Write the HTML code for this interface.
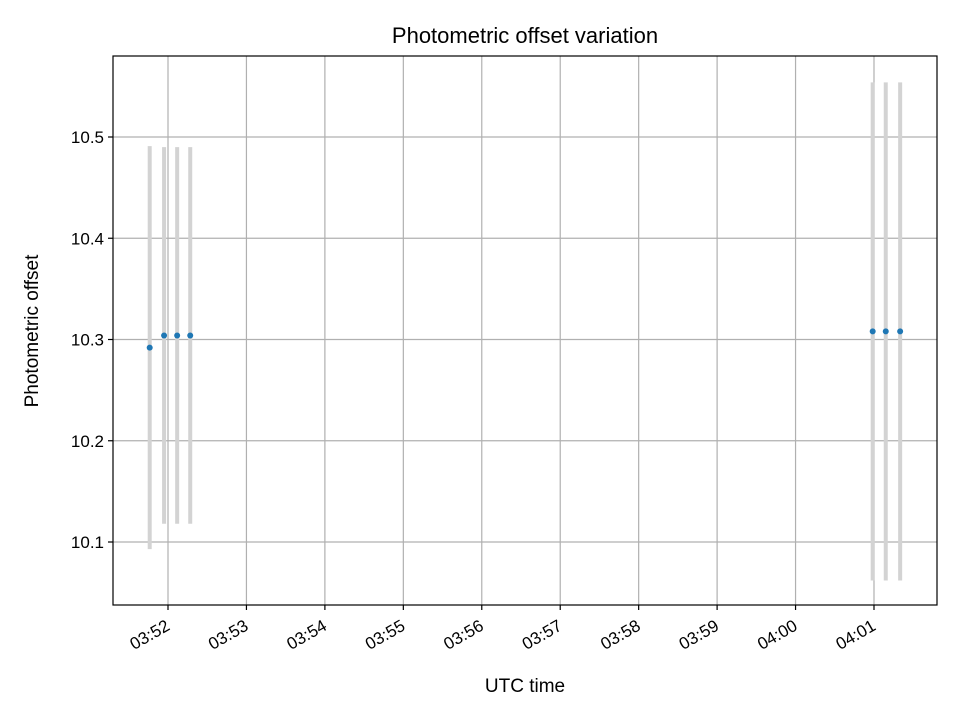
<!DOCTYPE html>
<html><head><meta charset="utf-8"><style>
body{margin:0;background:#fff}
svg text{font-family:"Liberation Sans","DejaVu Sans",sans-serif;fill:#000}
</style></head><body>
<svg id="chart" width="960" height="720" xmlns="http://www.w3.org/2000/svg">
<rect width="960" height="720" fill="#fff"/>
<g id="grid"></g>
<g id="errs"></g>
<g id="pts"></g>
<rect x="113" y="56" width="824" height="549" fill="none" stroke="#000" stroke-width="1.2"/>
<g id="ticks"></g>
<text x="525" y="43" font-size="22" text-anchor="middle">Photometric offset variation</text>
<text x="525" y="692" font-size="19" text-anchor="middle">UTC time</text>
<text transform="translate(38,331) rotate(-90)" font-size="19" text-anchor="middle">Photometric offset</text>
</svg>
<script>
// times in seconds since 03:50:00
const times=[106,117,127,137,659,669,680];
const values=[10.292,10.304,10.304,10.304,10.308,10.308,10.308];
const errors=[0.199,0.186,0.186,0.186,0.246,0.246,0.246];
const yTicks=[10.1,10.2,10.3,10.4,10.5];
// tick minutes since 03:50:00
const xTickMinutes=[2,3,4,5,6,7,8,9,10,11];
const xTickLabels=["03:52","03:53","03:54","03:55","03:56","03:57","03:58","03:59","04:00","04:01"];
const NS="http://www.w3.org/2000/svg";
const L=113,R=937,T=56,B=605;
function xs(sec){return 168+(sec/60-2)*78.444;}
function ys(v){return 542-(v-10.1)*1012.5;}
function mk(tag,attrs,parent){const e=document.createElementNS(NS,tag);for(const k in attrs)e.setAttribute(k,attrs[k]);parent.appendChild(e);return e;}
const grid=document.getElementById('grid'),ticks=document.getElementById('ticks');
yTicks.forEach(v=>{const y=ys(v);
 const g=mk('line',{x1:L,x2:R,y1:y,y2:y,stroke:'#b0b0b0','stroke-width':1.2},grid);
 
 
 const t=mk('line',{x1:L-5,x2:L,y1:y,y2:y,stroke:'#000','stroke-width':1.2},ticks);
 
 
 const tx=mk('text',{x:L-9,y:y+6,'font-size':17,'text-anchor':'end'},ticks);tx.textContent=v.toFixed(1);
 
 
});
xTickMinutes.forEach((m,i)=>{const x=xs(m*60);
 const g=mk('line',{x1:x,x2:x,y1:T,y2:B,stroke:'#b0b0b0','stroke-width':1.2},grid);
 
 
 const t=mk('line',{x1:x,x2:x,y1:B,y2:B+5,stroke:'#000','stroke-width':1.2},ticks);
 
 
 const tx=mk('text',{transform:`translate(${x+3},${B+24}) rotate(-30)`,'font-size':17,'text-anchor':'end'},ticks);tx.textContent=xTickLabels[i];
 
 
});
const errs=document.getElementById('errs'),pts=document.getElementById('pts');
times.forEach((s,i)=>{const x=xs(s);
 const e=mk('line',{x1:x,x2:x,y1:ys(values[i]+errors[i]),y2:ys(values[i]-errors[i]),stroke:'#d3d3d3','stroke-width':4},errs);
 
 
 const c=mk('circle',{cx:x,cy:ys(values[i]),r:3,fill:'#1f77b4'},pts);
 
 
});
</script>
</body></html>
